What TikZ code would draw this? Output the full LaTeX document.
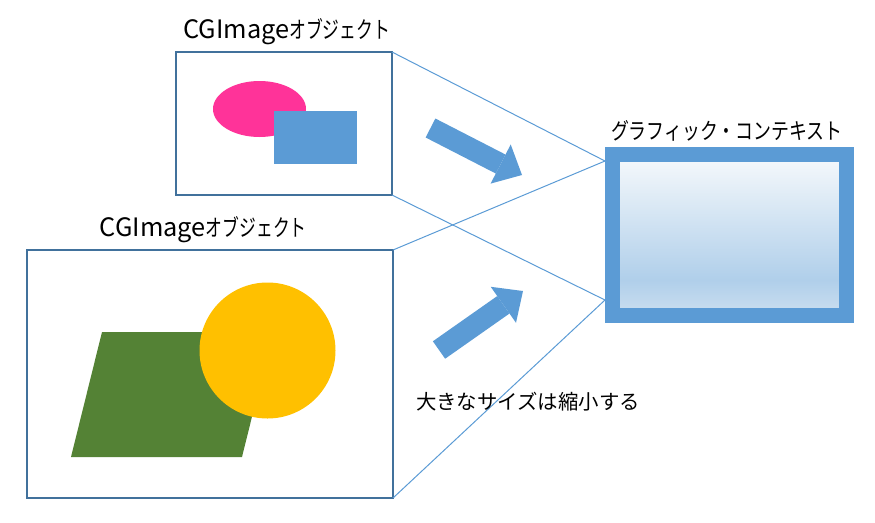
\documentclass[tikz,border=0pt]{standalone}
\usepackage{fontspec}
\setmainfont{Noto Sans CJK JP}
\newfontfamily\narrowkana[FakeStretch=0.72]{Noto Sans CJK JP}
\newfontfamily\ctxkana[FakeStretch=0.79]{Noto Sans CJK JP}
\usepackage{tikz}
\usetikzlibrary{shapes,arrows.meta,positioning,calc}
\definecolor{frameblue}{RGB}{65, 113, 156}
\definecolor{ctxblue}{RGB}{91, 155, 213}
\definecolor{shapepink}{RGB}{255, 51, 153}
\definecolor{shapegreen}{RGB}{84, 130, 53}
\definecolor{shapeyellow}{RGB}{255, 192, 0}
\definecolor{ctxtop}{RGB}{243, 247, 251}
\definecolor{ctxmid}{RGB}{176, 207, 234}
\definecolor{ctxlow}{RGB}{199, 220, 239}
\pgfdeclareverticalshading{ctxshade}{100bp}{color(0bp)=(ctxlow); color(27bp)=(ctxlow); color(36bp)=(ctxmid); color(73bp)=(ctxtop); color(100bp)=(ctxtop)}
\newcommand{\imgtitle}{{\fontsize{19}{22}\selectfont CGImage}{\narrowkana\fontsize{17.5}{22}\selectfont オブジェクト}}

\begin{document}
\begin{tikzpicture}[
    x=0.75pt, y=-0.75pt,
    font=\fontsize{15}{18}\selectfont,
    imagebox/.style={rectangle, draw=frameblue, line width=1.5pt, inner sep=0pt, outer sep=0pt},
    ctxbox/.style={rectangle, draw=ctxblue, line width=11.25pt, shading=ctxshade, inner sep=0pt, outer sep=0pt,
        minimum width=175.5pt, minimum height=120.75pt},
    guide/.style={draw=ctxblue, line width=0.75pt},
    bigarrow/.style={draw=ctxblue, line width=16pt, -{Triangle[length=18pt, width=33pt, line width=0pt]}},
    label/.style={inner sep=1pt}
]
    \useasboundingbox (0,0) rectangle (875,522);

    \node[imagebox, minimum width=162pt, minimum height=107.25pt] (small) at (284,123.5) {};
    \node[imagebox, minimum width=274.5pt, minimum height=186pt] (big) at (210,374) {};

    \node[ellipse, fill=shapepink, inner sep=0pt, minimum width=69.75pt, minimum height=42pt] (blob) at (259.5,109) {};
    \node[rectangle, fill=ctxblue, inner sep=0pt, minimum width=62.25pt, minimum height=39.75pt] (rect) at (315.5,137.5) {};

    \fill[shapegreen] (102,332) -- (273,332) -- (242,457) -- (71,457) -- cycle;
    \node[circle, fill=shapeyellow, inner sep=0pt, minimum size=102pt] (sun) at (267.5,350.5) {};

    \node[label, above=4pt of small, xshift=2pt] (smalltitle) {\imgtitle};
    \node[label, above=4pt of big, xshift=-5pt] (bigtitle) {\imgtitle};

    \coordinate (ctxin) at (605,161);
    \coordinate (ctxout) at (605,300);
    \draw[guide] (small.north east) -- (ctxin);
    \draw[guide] (big.north east) -- (ctxin);
    \draw[guide] (small.south east) -- (ctxout);
    \draw[guide] (big.south east) -- (ctxout);

    \node[ctxbox] (ctx) at (729.5,235) {};
    \node[label, above=9pt of ctx, xshift=-2pt] (ctxtitle) {\ctxkana\fontsize{17}{20}\selectfont グラフィック・コンテキスト};

    \coordinate (a1s) at (430.5,128);
    \coordinate (a1e) at (522,175);
    \coordinate (a2s) at (439,350);
    \coordinate (a2e) at (523,291);
    \draw[bigarrow] (a1s) -- (a1e);
    \draw[bigarrow] (a2s) -- (a2e);

    \node[label] (note) at (528,402) {\fontsize{15.3}{18}\selectfont 大きなサイズは縮小する};
\end{tikzpicture}
\end{document}
